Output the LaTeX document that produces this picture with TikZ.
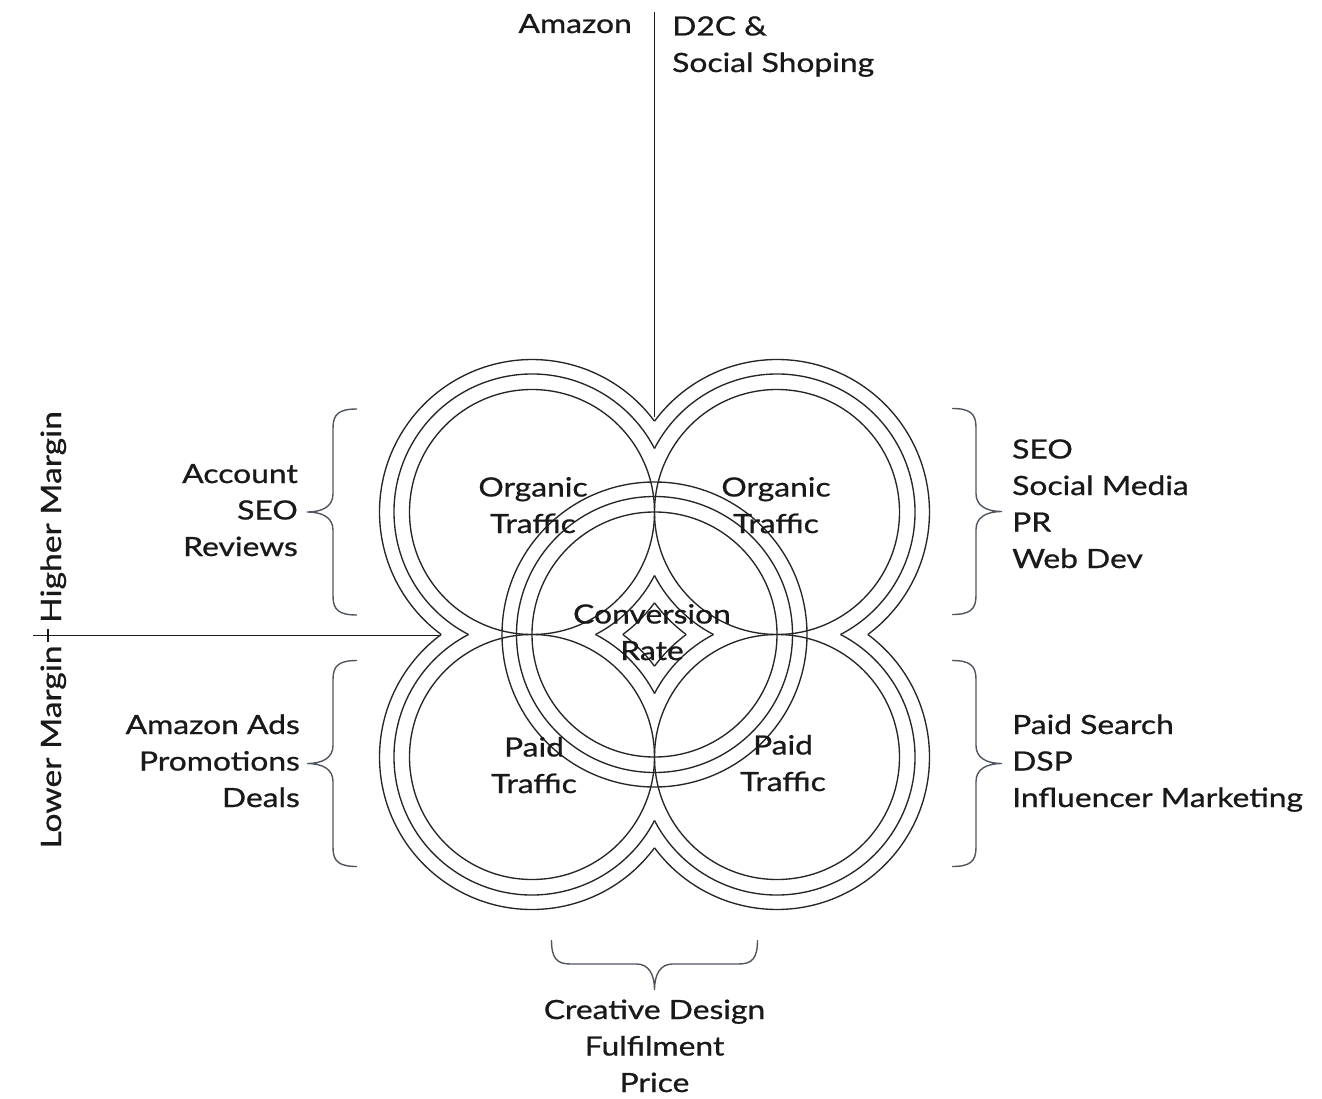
\documentclass[tikz,border=0pt]{standalone}
\usepackage{fontspec}
\setmainfont[FakeStretch=1.2, FakeBold=0.8]{Lato}
\begin{document}
\begin{tikzpicture}[x=1pt,y=-1pt,
  ring/.style={draw=black!85, line width=1.35pt},
  divider/.style={draw=black!90, line width=1.8pt},
  bracestyle/.style={draw={rgb,255:red,80;green,86;blue,94}, line width=1.4pt},
  lbl/.style={font=\fontsize{26.5}{36.5}\selectfont, inner sep=0pt, text=black!90},
  side/.style={font=\fontsize{28}{36}\selectfont, inner sep=0pt, text=black!90, rotate=90, anchor=base},
  brace shape/.pic={
    \draw[bracestyle] (0,-103) .. controls (18,-103) and (24,-98) .. (24,-84)
      -- (24,-18) .. controls (24,-6) and (34,0) .. (50,0)
      .. controls (34,0) and (24,6) .. (24,18)
      -- (24,84) .. controls (24,98) and (18,103) .. (0,103);
  }
]
\useasboundingbox (0,0) rectangle (1322,1099);

% centres of the four traffic circles and of the whole figure
\coordinate (O) at (654.5,634.5);
\coordinate (tl) at (532,512);
\coordinate (tr) at (777,512);
\coordinate (bl) at (532,757);
\coordinate (br) at (777,757);

% inner circles
\foreach \n in {tl,tr,bl,br}
  \draw[ring] (\n) circle[radius=122.5];

% centre rings
\foreach \r in {122.5,138,152.5}
  \draw[ring] (O) circle[radius=\r];

% outlines of the union of the enlarged circles (outer edge and inner star)
\foreach \R in {138,152.5}{
  \pgfmathsetmacro{\a}{acos(122.5/\R)}
  \foreach \n/\p in {tl/45, tr/135, br/225, bl/315}{
    \pgfmathsetmacro{\sa}{\p-45+\a}
    \pgfmathsetmacro{\ea}{\p+45-\a}
    \pgfmathsetmacro{\sb}{\p+45+\a}
    \pgfmathsetmacro{\eb}{\p+315-\a}
    \draw[ring] (\n) ++(\sa:\R) arc[start angle=\sa, end angle=\ea, radius=\R];
    \draw[ring] (\n) ++(\sb:\R) arc[start angle=\sb, end angle=\eb, radius=\R];
  }
}

% dividers
\coordinate (topend) at (654.5,12);
\coordinate (cuspT) at (654.5,417);
\coordinate (leftend) at (33,635.5);
\coordinate (cuspL) at (441,635.5);
\coordinate (tickA) at (48,629);
\coordinate (tickB) at (48,642);
\draw[divider] (topend) -- (cuspT);
\draw[divider] (leftend) -- (cuspL);
\draw[divider, line width=1.2pt] (tickA) -- (tickB);

% braces
\pic at (952,511.5) {brace shape};
\pic at (952,763.5) {brace shape};
\pic[xscale=-1] at (357,512) {brace shape};
\pic[xscale=-1] at (357,763.5) {brace shape};
\pic[rotate=-90] at (654.5,940) {brace shape};

% labels (anchor=base sits on the last line)
\node[lbl, anchor=base east] (amazon) at (632,33) {Amazon};
\node[lbl, anchor=base west, align=left] (d2c) at (672,72) {D2C \&\\Social Shoping};
\node[lbl, anchor=base west, align=left] (organicr) at (1012,568) {SEO\\Social Media\\PR\\Web Dev};
\node[lbl, anchor=base west, align=left] (paidr) at (1012,807) {Paid Search\\DSP\\Influencer Marketing};
\node[lbl, anchor=base east, align=right] (organicl) at (298,556) {Account\\SEO\\Reviews};
\node[lbl, anchor=base east, align=right] (paidl) at (300,807) {Amazon Ads\\Promotions\\Deals};
\node[lbl, anchor=base, align=center] (common) at (654.5,1092) {Creative Design\\Fulfilment\\Price};

\node[lbl, anchor=base, align=center] (q1) at (533,533) {Organic\\Traffic};
\node[lbl, anchor=base, align=center] (q2) at (776,533) {Organic\\Traffic};
\node[lbl, anchor=base, align=center] (q3) at (534,793) {Paid\\Traffic};
\node[lbl, anchor=base, align=center] (q4) at (783,791) {Paid\\Traffic};
\node[lbl, anchor=base, align=center] (cr) at (652,660) {Conversion\\Rate};

\node[side] (high) at (61,517) {Higher Margin};
\node[side] (low) at (61,747) {Lower Margin};
\end{tikzpicture}
\end{document}
